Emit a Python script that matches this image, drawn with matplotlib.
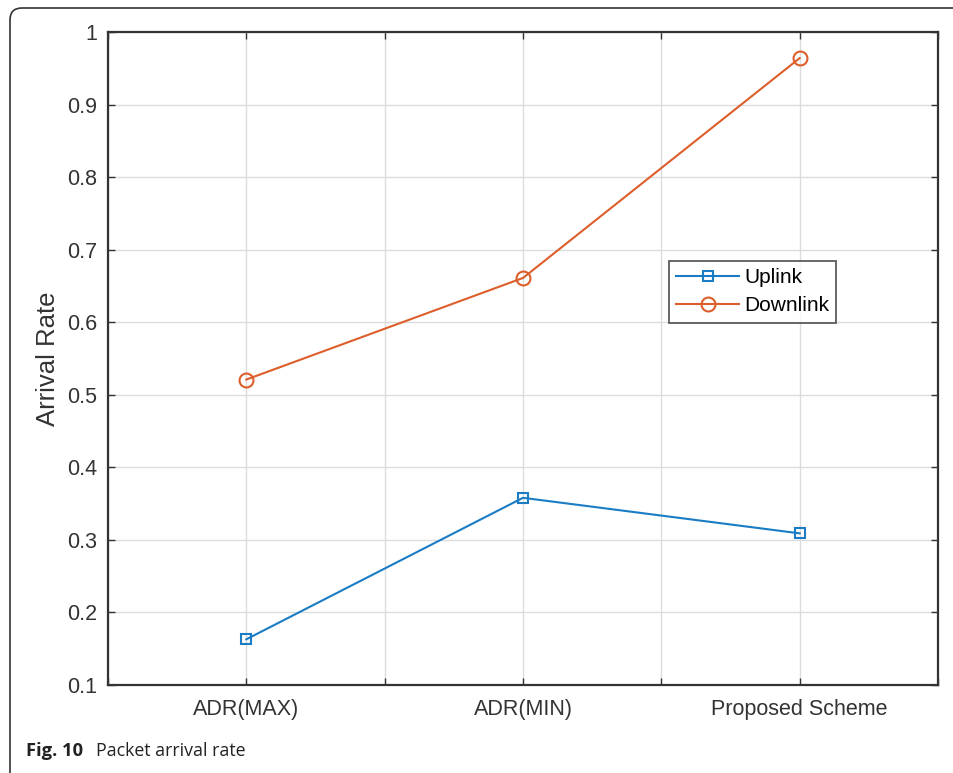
import matplotlib
matplotlib.use("Agg")
import matplotlib.pyplot as plt
from matplotlib.patches import FancyBboxPatch
from matplotlib.transforms import IdentityTransform

schemes = ["ADR(MAX)", "ADR(MIN)", "Proposed Scheme"]
uplink = [0.163, 0.358, 0.309]
downlink = [0.521, 0.661, 0.964]
y_ticks = [0.1, 0.2, 0.3, 0.4, 0.5, 0.6, 0.7, 0.8, 0.9, 1]

BLUE = "#1a7cc4"
ORANGE = "#dc5e2a"
DARK = "#333333"

plt.rcParams["font.family"] = ["Liberation Sans", "DejaVu Sans"]

W, H = 954, 773
fig = plt.figure(figsize=(W / 100, H / 100), dpi=100)
fig.patch.set_facecolor("white")

ax = fig.add_axes([108 / W, (H - 685) / H, (938 - 108) / W, (685 - 32) / H])

x = list(range(1, len(schemes) + 1))
ax.plot(x, uplink, color=BLUE, lw=1.5, marker="s", ms=7, mfc="none",
        mew=1.5, label="Uplink")
ax.plot(x, downlink, color=ORANGE, lw=1.5, marker="o", ms=10, mfc="none",
        mew=1.5, label="Downlink")

ax.set_xlim(0.5, 3.5)
ax.set_ylim(0.1, 1.0)
xt = [0.5, 1, 1.5, 2, 2.5, 3, 3.5]
ax.set_xticks(xt)
labels = []
for v in xt:
    labels.append(schemes[int(v) - 1] if float(v).is_integer() else "")
ax.set_xticklabels(labels)
ax.set_yticks(y_ticks)
ax.set_yticklabels([("%g" % v) for v in y_ticks])

ax.tick_params(axis="both", direction="in", length=5, width=1.0,
               colors=DARK, labelsize=15.5, top=True, right=True)
ax.tick_params(axis="x", pad=10)
ax.tick_params(axis="y", pad=8)
for s in ax.spines.values():
    s.set_color(DARK)
    s.set_linewidth(1.6)

ax.grid(True, color="#dcdcdc", lw=1.0)
ax.set_axisbelow(True)

ax.set_ylabel("Arrival Rate", fontsize=18.5, color=DARK, labelpad=5)

leg = ax.legend(loc="upper left", bbox_to_anchor=(0.676, 0.650),
                fontsize=15, frameon=True, fancybox=False,
                edgecolor=DARK, handlelength=3.0, handletextpad=0.25,
                borderpad=0.35, labelspacing=0.45, borderaxespad=0)
leg.get_frame().set_linewidth(1.3)

# Figure frame with rounded top-left corner
frame = FancyBboxPatch((10, -60), 1100, H - 8 + 60,
                       boxstyle="round,pad=0,rounding_size=12",
                       transform=IdentityTransform(), fill=False,
                       edgecolor="#333333", lw=1.2, clip_on=False)
fig.add_artist(frame)

cap_font = ["Open Sans", "DejaVu Sans"]
fig.text(26 / W, 1 - 751 / H, "Fig. 10", fontsize=13.2, fontweight="bold",
         family=cap_font, color="#222222", va="center", ha="left")
fig.text(96 / W, 1 - 751 / H, "Packet arrival rate", fontsize=12.8,
         family=cap_font, color="#222222", va="center", ha="left")

fig.savefig("out.png", dpi=100, facecolor="white")
